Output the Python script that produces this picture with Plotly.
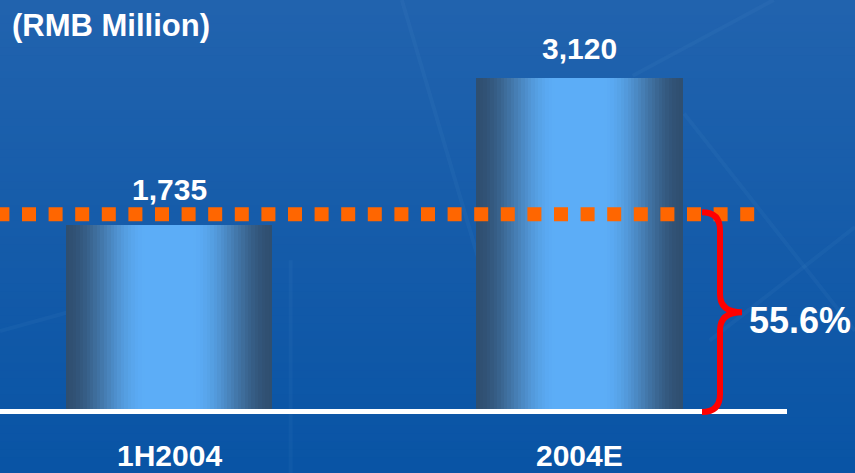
import plotly.graph_objects as go

# ---- data ----
CATEGORIES = ["1H2004", "2004E"]
VALUES = [1735, 3120]
VALUE_LABELS = ["1,735", "3,120"]
SHARE_LABEL = "55.6%"
UNIT_LABEL = "(RMB Million)"

# ---- layout constants ----
W, H = 855, 473
FONT = "Liberation Sans, Arial, sans-serif"
BAR_WIDTH = 0.502
X_RANGE = [-0.4117, 1.6711]
Y_RANGE = [-603.3, 3855.2]
PPU = H / (Y_RANGE[1] - Y_RANGE[0])  # pixels per data unit


def hex_to_rgb(h):
    h = h.lstrip("#")
    return tuple(int(h[i:i + 2], 16) for i in (0, 2, 4))


def mix(c1, c2, t):
    a, b = hex_to_rgb(c1), hex_to_rgb(c2)
    return "rgb(%d,%d,%d)" % tuple(round(a[k] + (b[k] - a[k]) * t) for k in range(3))


def smoothstep(e0, e1, x):
    t = min(max((x - e0) / (e1 - e0), 0.0), 1.0)
    return t * t * (3 - 2 * t)


fig = go.Figure()

# bars: horizontal metallic gradient built from narrow overlapping slices
N = 60
LIGHT, DARK = "#5cadf7", "#2f4e6f"
step = BAR_WIDTH / N
for i in range(N):
    u = (i + 0.5) / N
    d = abs(2 * u - 1)
    col = mix(LIGHT, DARK, smoothstep(0.22, 1.02, d))
    fig.add_trace(go.Bar(
        x=CATEGORIES, y=VALUES,
        width=step * (1.0 if i == N - 1 else 1.15),
        offset=-BAR_WIDTH / 2 + i * step,
        marker=dict(color=col, line=dict(width=0)),
        showlegend=False, hoverinfo="skip",
    ))

shapes = []

# background: vertical blue gradient
BG_TOP, BG_BOT = "#2163ae", "#0954a5"
NB = 60
for i in range(NB):
    y1 = 1 - i / NB
    y0 = 1 - (i + 1) / NB - 0.002
    shapes.append(dict(type="rect", xref="paper", yref="paper",
                       x0=0, x1=1, y0=max(y0, 0), y1=y1, layer="below",
                       line=dict(width=0),
                       fillcolor=mix(BG_TOP, BG_BOT, i / (NB - 1))))

# faint network lines in the backdrop
faint = [
    ((0.905, 1.0), (0.74, 0.84)),
    ((0.80, 0.76), (1.0, 0.30)),
    ((0.47, 1.0), (0.56, 0.45)),
    ((0.34, 0.45), (0.34, 0.0)),
    ((0.0, 0.30), (0.12, 0.36)),
    ((1.0, 0.52), (0.83, 0.28)),
]
for (xa, ya), (xb, yb) in faint:
    shapes.append(dict(type="line", xref="paper", yref="paper",
                       x0=xa, y0=ya, x1=xb, y1=yb, layer="below",
                       line=dict(color="rgba(130,190,245,0.05)", width=4)))

# white baseline
shapes.append(dict(type="line", xref="paper", yref="y", ysizemode="pixel",
                   yanchor=0, y0=-2.5, y1=-2.5, x0=0, x1=787 / W,
                   line=dict(color="white", width=5)))

# orange dotted level line just above the first bar
ORANGE_SHIFT = 10.6
shapes.append(dict(type="line", xref="paper", yref="y", ysizemode="pixel",
                   yanchor=VALUES[0], y0=ORANGE_SHIFT, y1=ORANGE_SHIFT,
                   x0=-4.6 / W, x1=757 / W,
                   line=dict(color="#ff6600", width=14, dash="14px,12.6px")))

# red curly brace from baseline up to the level line
top = VALUES[0] * PPU + ORANGE_SHIFT + 2.0
bot = -3.0
mid = (top + bot) / 2
xe, xs, xt = 122.5, 140.5, 162.5
r = 18
brace = (
    f"M {xe},{top} Q {xs},{top} {xs},{top - r} "
    f"L {xs},{mid + r} Q {xs},{mid} {xt},{mid} "
    f"Q {xs},{mid} {xs},{mid - r} "
    f"L {xs},{bot + r} Q {xs},{bot} {xe},{bot}"
)
shapes.append(dict(type="path", xref="x", yref="y",
                   xsizemode="pixel", ysizemode="pixel",
                   xanchor=1, yanchor=0, path=brace,
                   line=dict(color="#ff0000", width=6)))

annotations = []
LABEL_SHIFTS = [35.5, 30.0]
for cat, val, lab, sh in zip(CATEGORIES, VALUES, VALUE_LABELS, LABEL_SHIFTS):
    annotations.append(dict(x=cat, y=val, text=lab, showarrow=False,
                            yanchor="middle", yshift=sh,
                            font=dict(family=FONT, size=30, color="white", weight="bold")))
    annotations.append(dict(x=cat, y=0, text=cat, showarrow=False,
                            yanchor="middle", yshift=-46,
                            font=dict(family=FONT, size=30, color="white", weight="bold")))

annotations.append(dict(x=1, y=0, text=SHARE_LABEL, showarrow=False,
                        xanchor="center", yanchor="middle",
                        xshift=220.5, yshift=88.5,
                        font=dict(family=FONT, size=36, color="white", weight="bold")))

annotations.append(dict(xref="paper", yref="paper", x=10 / W, y=1 - 25 / H,
                        text=UNIT_LABEL, showarrow=False,
                        xanchor="left", yanchor="middle",
                        font=dict(family=FONT, size=31, color="white", weight="bold")))

fig.update_layout(
    width=W, height=H,
    margin=dict(l=0, r=0, t=0, b=0, pad=0),
    paper_bgcolor="#1660ab",
    plot_bgcolor="rgba(0,0,0,0)",
    barmode="overlay",
    bargap=0,
    showlegend=False,
    xaxis=dict(type="category", range=X_RANGE, visible=False, fixedrange=True),
    yaxis=dict(range=Y_RANGE, visible=False, fixedrange=True),
    shapes=shapes,
    annotations=annotations,
)

fig.write_html("out.html", config={"displayModeBar": False})
